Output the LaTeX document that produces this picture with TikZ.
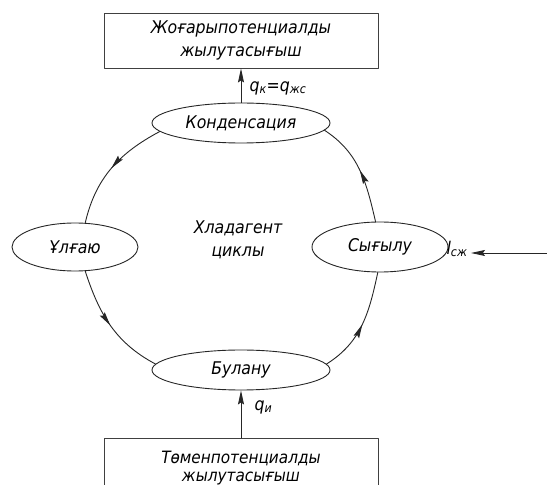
\documentclass[tikz,border=0pt]{standalone}
\usepackage{fontspec}
\setmainfont{DejaVu Sans Condensed}
\usetikzlibrary{shapes.geometric,arrows.meta,decorations.markings}
\begin{document}
\begin{tikzpicture}[x=1pt,y=1pt,line join=round,line cap=round,
 >={Stealth[length=14pt,width=6pt,inset=2pt]},
 font=\fontsize{17.5}{23}\selectfont\itshape,
 box/.style={draw=black!75,line width=.9pt,minimum width=274pt,minimum height=55pt,align=center,inner sep=2pt},
 stage/.style={ellipse,draw=black!85,line width=.9pt,inner sep=0pt},
 flow/.style={draw=black!85,line width=.9pt,postaction={decorate},
  decoration={markings,mark=at position .5 with {\arrow{>}}}}]
 \useasboundingbox (0,0) rectangle (547,485);
 \node[box] (hot) at (241,444.5) {Жоғарыпотенциалды\\жылутасығыш};
 \node[box,anchor=north,minimum height=60pt,inner ysep=0pt,font=\fontsize{17}{18}\selectfont\itshape] (cold) at (241,47) {Төменпотенциалды\\жылутасығыш};
 \node[stage,minimum width=178pt,minimum height=40pt] (kond) at (241,362) {Конденсация};
 \node[stage,minimum width=126pt,minimum height=48pt] (ulg) at (75,238) {Ұлғаю};
 \node[stage,minimum width=136pt,minimum height=50pt] (syg) at (380,238) {Сығылу};
 \node[stage,minimum width=178pt,minimum height=40pt] (bul) at (241,115) {Булану};
 \node[align=center] (cyc) at (238,245) {Хладагент\\циклы};
 \draw[flow] (kond.186) to[out=208,in=77] (ulg.67);
 \draw[flow] (ulg.-67) to[out=288,in=152] (bul.176);
 \draw[flow] (bul.4) to[out=32,in=258] (syg.-95);
 \draw[flow] (syg.100) to[out=103,in=-33] (kond.-5);
 \draw[->,black!85,line width=.9pt] (kond.north) -- (hot.south);
 \draw[->,black!85,line width=.9pt] (cold.north) -- (bul.south);
 \node[anchor=west] (qk) at (246,397) {q\textsubscript{к}=q\textsubscript{жс}};
 \node[anchor=west] (qi) at (251,78) {q\textsubscript{и}};
 \node (lsz) at (457,236) {l\textsubscript{сж}};
 \coordinate (lin) at (547,232);
 \draw[->,black!85,line width=.9pt] (lin) -- (lsz.east|-lin);
\end{tikzpicture}
\end{document}
